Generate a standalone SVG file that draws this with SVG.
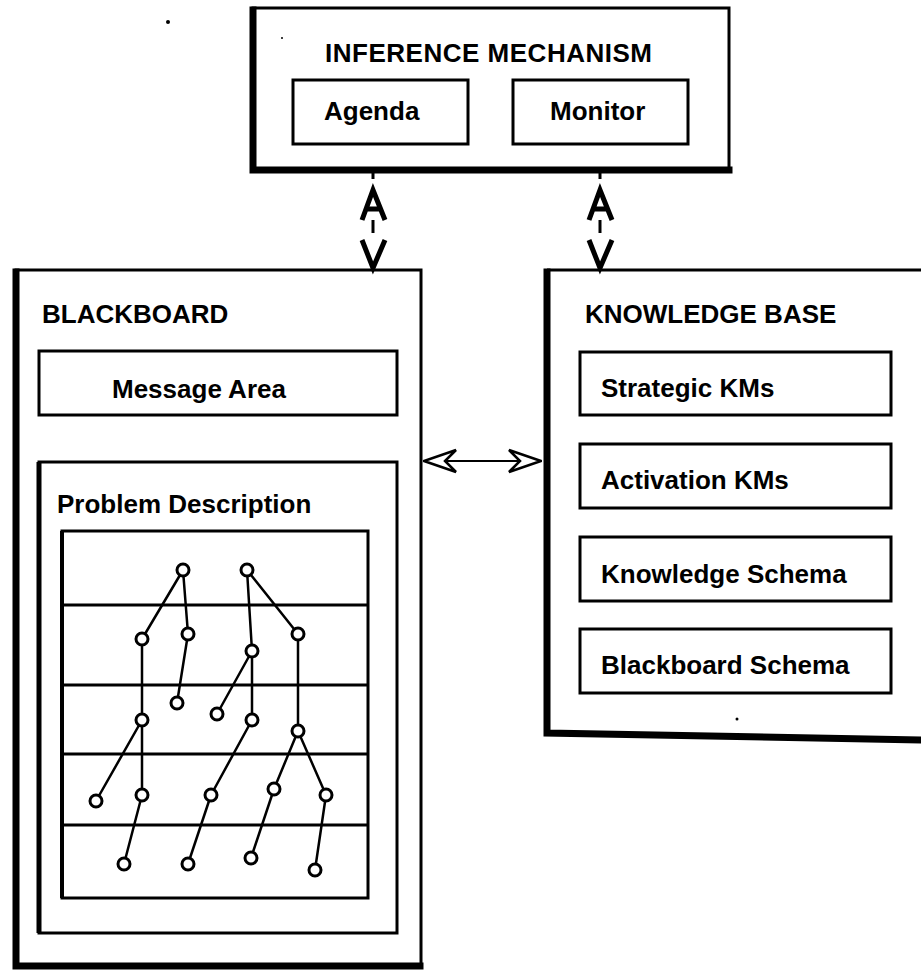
<svg xmlns="http://www.w3.org/2000/svg" width="921" height="970" viewBox="0 0 921 970">
  <style>
    text { font-family: "Liberation Sans", Arial, sans-serif; font-weight: bold; font-size: 26px; fill: #000; }
    .frame { fill: none; stroke: #000; stroke-width: 3; }
    .heavy { fill: none; stroke: #000; stroke-width: 7; stroke-linecap: square; }
    .box { fill: #fff; stroke: #000; stroke-width: 3; }
    .grid { stroke: #000; stroke-width: 3; }
    .edge { stroke: #000; stroke-width: 2.5; fill: none; }
    .node { fill: #fff; stroke: #000; stroke-width: 3; }
    .head { fill: none; stroke: #000; stroke-width: 5; stroke-linejoin: miter; }
    .stem { stroke: #000; stroke-width: 3; }
  </style>
  <defs>
    <marker id="openHead" viewBox="0 0 34 26" refX="33" refY="13" markerWidth="34" markerHeight="26" markerUnits="userSpaceOnUse" orient="auto-start-reverse">
      <path d="M33,13 L1,2 L12,13 L1,24 Z" fill="#fff" stroke="#000" stroke-width="2.5" stroke-linejoin="miter"/>
    </marker>
  </defs>
  <rect width="921" height="970" fill="#fff"/>

  <!-- specks -->
  <circle cx="168" cy="22" r="2" fill="#000"/>
  <circle cx="282" cy="38" r="1" fill="#000"/>
  <circle cx="737" cy="719" r="1.5" fill="#000"/>

  <!-- inference mechanism -->
  <g id="inference-mechanism">
    <rect class="frame" x="253" y="8" width="476" height="162"/>
    <path class="heavy" d="M253,10 V170 H729"/>
    <text x="325" y="62" textLength="327">INFERENCE MECHANISM</text>
    <g id="agenda">
      <rect class="box" x="293" y="80" width="175" height="64"/>
      <text x="324" y="120">Agenda</text>
    </g>
    <g id="monitor">
      <rect class="box" x="513" y="80" width="175" height="64"/>
      <text x="550" y="120">Monitor</text>
    </g>
  </g>

  <!-- blackboard -->
  <g id="blackboard">
    <rect class="frame" x="16" y="270" width="405" height="696"/>
    <path class="heavy" d="M16,272 V966 H420"/>
    <text x="42" y="323">BLACKBOARD</text>
    <g id="message-area">
      <rect class="box" x="39" y="351" width="358" height="64"/>
      <text x="112" y="398">Message Area</text>
    </g>
    <g id="problem-description">
      <rect class="box" x="39" y="462" width="358" height="471"/>
      <line x1="39" y1="462" x2="39" y2="933" stroke="#000" stroke-width="5"/>
      <text x="57" y="513">Problem Description</text>
      <rect class="box" x="62" y="531" width="306" height="367"/>
      <line x1="62" y1="531" x2="62" y2="898" stroke="#000" stroke-width="4"/>
      <line class="grid" x1="62" y1="605" x2="368" y2="605"/>
      <line class="grid" x1="62" y1="685" x2="368" y2="685"/>
      <line class="grid" x1="62" y1="754" x2="368" y2="754"/>
      <line class="grid" x1="62" y1="825" x2="368" y2="825"/>
      <g id="tree-edges">
        <path class="edge" d="M183,570 L142,639 M183,570 L188,634 M247,570 L298,634 M247,570 L252,651 M142,639 L142,720 M188,634 L177,703 M252,651 L217,714 M252,651 L252,720 M298,634 L298,731 M142,720 L96,801 M142,720 L142,795 M252,720 L211,795 M298,731 L274,789 M298,731 L326,795 M142,795 L124,864 M211,795 L188,864 M274,789 L251,858 M326,795 L315,870"/>
      </g>
      <g id="tree-nodes">
        <circle class="node" cx="183" cy="570" r="6"/>
        <circle class="node" cx="247" cy="570" r="6"/>
        <circle class="node" cx="142" cy="639" r="6"/>
        <circle class="node" cx="188" cy="634" r="6"/>
        <circle class="node" cx="298" cy="634" r="6"/>
        <circle class="node" cx="252" cy="651" r="6"/>
        <circle class="node" cx="177" cy="703" r="6"/>
        <circle class="node" cx="217" cy="714" r="6"/>
        <circle class="node" cx="142" cy="720" r="6"/>
        <circle class="node" cx="252" cy="720" r="6"/>
        <circle class="node" cx="298" cy="731" r="6"/>
        <circle class="node" cx="96" cy="801" r="6"/>
        <circle class="node" cx="142" cy="795" r="6"/>
        <circle class="node" cx="211" cy="795" r="6"/>
        <circle class="node" cx="274" cy="789" r="6"/>
        <circle class="node" cx="326" cy="795" r="6"/>
        <circle class="node" cx="124" cy="864" r="6"/>
        <circle class="node" cx="188" cy="864" r="6"/>
        <circle class="node" cx="251" cy="858" r="6"/>
        <circle class="node" cx="315" cy="870" r="6"/>
      </g>
    </g>
  </g>

  <!-- knowledge base -->
  <g id="knowledge-base">
    <path class="frame" d="M547,270 H925"/>
    <path class="heavy" d="M547,272 V733 L925,740"/>
    <text x="585" y="323">KNOWLEDGE BASE</text>
    <g id="strategic-kms">
      <rect class="box" x="580" y="352" width="311" height="63"/>
      <text x="601" y="397">Strategic KMs</text>
    </g>
    <g id="activation-kms">
      <rect class="box" x="580" y="444" width="311" height="64"/>
      <text x="601" y="489">Activation KMs</text>
    </g>
    <g id="knowledge-schema">
      <rect class="box" x="580" y="537" width="311" height="64"/>
      <text x="601" y="583">Knowledge Schema</text>
    </g>
    <g id="blackboard-schema">
      <rect class="box" x="580" y="629" width="311" height="64"/>
      <text x="601" y="674">Blackboard Schema</text>
    </g>
  </g>

  <!-- connectors -->
  <g id="connectors">
    <!-- inference mechanism <-> blackboard -->
    <line class="stem" x1="373" y1="172" x2="373" y2="179" stroke-width="2"/>
    <path class="head" d="M362,220 L373,190 L385,220 M366,209 L381,209"/>
    <line class="stem" x1="373" y1="220" x2="373" y2="233"/>
    <path class="head" d="M362,240 L373,268 L385,240"/>
    <!-- inference mechanism <-> knowledge base -->
    <line class="stem" x1="600" y1="172" x2="600" y2="179" stroke-width="2"/>
    <path class="head" d="M589,220 L600,190 L612,220 M593,209 L608,209"/>
    <line class="stem" x1="600" y1="220" x2="600" y2="233"/>
    <path class="head" d="M589,240 L600,268 L612,240"/>
    <!-- blackboard <-> knowledge base -->
    <line x1="424" y1="461" x2="541" y2="461" stroke="#000" stroke-width="2" marker-start="url(#openHead)" marker-end="url(#openHead)"/>
  </g>
</svg>
